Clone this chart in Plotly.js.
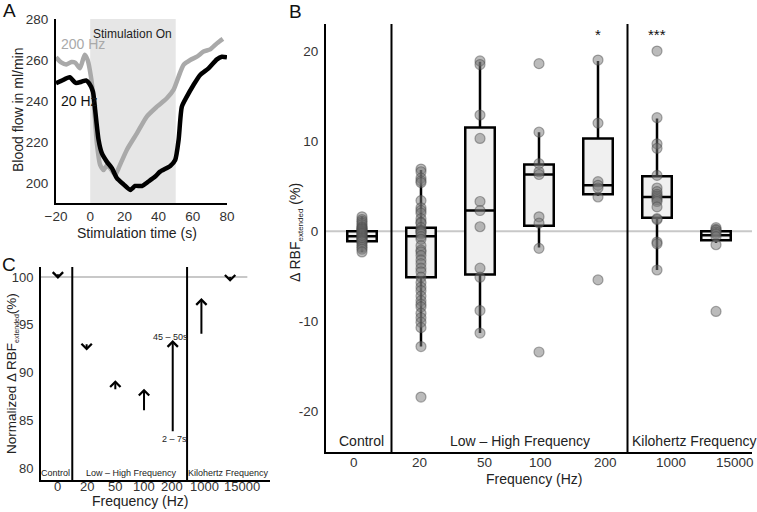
<!DOCTYPE html>
<html>
<head>
<meta charset="utf-8">
<script src="https://cdn.plot.ly/plotly-3.0.1.min.js"></script>
<style>
  html, body { margin: 0; padding: 0; background: #fff; }
  #fig { width: 757px; height: 512px; }
</style>
</head>
<body>
<div id="fig"></div>
<script>
// ---------- Panel A: blood flow time courses ----------
const time200 = [-20, -17, -14, -11, -8.8, -6, -3.2, -1.5, 0.4, 2, 3.9, 5.8, 7.8, 9.7, 11.7, 14.6, 16.6, 21.4, 27.3, 33.1, 39, 44.8, 48.7, 51.7, 54.6, 58.5, 62.4, 66.3, 70.2, 74.1, 77.6];
const flow200 = [261.3, 258.8, 257.8, 259.0, 258.7, 256.0, 262.6, 260.0, 252.0, 240.5, 219.3, 208.8, 206.3, 208.5, 207.2, 203.9, 207.2, 216.1, 224.2, 232.4, 237.2, 241.3, 245.4, 251.9, 257.6, 260.0, 261.6, 264.1, 265.2, 268.1, 270.3];
const time20 = [-20, -16.5, -12, -8.5, -5, -2.4, -0.6, 1.6, 2.9, 4.9, 6.8, 9.7, 12.7, 15.6, 19.5, 23.4, 26.3, 30.2, 34.1, 38, 40.9, 46.8, 49.7, 51.7, 53.6, 56.5, 60.4, 64.3, 69.2, 74.1, 77, 80];
const flow20 = [248.6, 250.0, 251.6, 248.8, 249.4, 250.0, 248.6, 244.6, 235.6, 221.0, 214.5, 210.4, 207.2, 202.3, 199.3, 196.6, 198.5, 198.5, 200.7, 203.1, 205.5, 208.3, 211.2, 221.0, 237.2, 242.1, 247.8, 252.7, 255.9, 260.3, 261.6, 261.3];
const seriesNames = ['200 Hz', '20 Hz'];
const timeTicks = [-20, 0, 20, 40, 60, 80];
const flowTicks = [200, 220, 240, 260, 280];

// ---------- Panel B: change in renal blood flow per frequency ----------
const freqLabels = ['0', '20', '50', '100', '200', '1000', '15000'];
const groupNames = ['Control', 'Low \u2013 High Frequency', 'Kilohertz Frequency'];
const ctrlVals = [1.6, 1.3, 1.1, 0.9, 0.7, 0.5, 0.4, 0.3, 0.2, 0.1, 0.0, -0.1, -0.2, -0.3, -0.4, -0.5, -0.6, -0.7, -0.8, -0.9, -1.0, -1.1, -1.2, -1.4, -1.6, -1.8, -2.0, -2.3];
const hz20Vals = [6.9, 6.6, 5.9, 5.6, 5.4, 3.4, 2.6, 2.3, 2.0, 1.4, 1.0, 0.9, 0.4, 0.1, 0.0, -0.1, -0.3, -0.6, -0.9, -1.6, -2.1, -2.3, -2.7, -3.2, -3.6, -4.1, -4.5, -5.1, -5.7, -6.2, -6.6, -7.2, -7.7, -8.1, -8.4, -9.1, -9.6, -10.1, -10.7, -12.8, -18.4];
const hz50Vals = [18.9, 18.5, 12.9, 10.3, 3.3, 2.3, 0.5, -4.1, -5.1, -8.8, -11.3];
const hz100Vals = [18.6, 11.0, 7.5, 6.6, 6.3, 1.6, 0.9, -1.9, -13.4];
const hz200Vals = [19.0, 12.0, 5.5, 5.1, 4.8, 3.8, -5.4];
const hz1000Vals = [20.0, 12.6, 9.7, 9.2, 6.2, 4.8, 4.4, 4.1, 3.9, 3.7, 3.5, 3.3, 2.7, 1.4, 1.3, -1.2, -1.4, -4.3];
const hz15000Vals = [0.4, 0.2, 0.1, -0.1, -0.3, -0.6, -1.5, -8.9];
const boxQ1 = [-1.1, -5.1, -4.8, 0.6, 4.1, 1.5, -1.0];
const boxMedian = [-0.55, -0.55, 2.3, 6.3, 5.1, 3.8, -0.45];
const boxQ3 = [0.0, 0.4, 11.5, 7.4, 10.3, 6.1, 0.0];
const boxLower = [-2.3, -12.8, -11.3, -1.8, 3.9, -4.3, -1.3];
const boxUpper = [1.6, 6.8, 18.8, 11.0, 18.9, 12.5, 0.3];
const sigMarks = ['', '', '', '', '*', '***', ''];

// ---------- Panel C: normalized change, 2-7 s to 45-50 s ----------
const normStart = [100.35, 93.0, 88.2, 86.0, 83.8, 94.0, 100.05];
const normEnd = [99.8, 92.3, 89.2, 88.3, 93.4, 97.8, 99.5];
const windowLabels = ['45 \u2013 50s', '2 \u2013 7s'];
const normTicks = [80, 85, 90, 95, 100];

// ---------- build ----------
const FONT = 'Liberation Sans, Arial, sans-serif';
const W = 757, H = 512;
const px = v => v / W;            // pixel -> paper x
const py = v => 1 - v / H;        // pixel -> paper y

const groupVals = [ctrlVals, hz20Vals, hz50Vals, hz100Vals, hz200Vals, hz1000Vals, hz15000Vals];
const catPos = freqLabels.map((_, i) => i + 1);
const ptsX = [], ptsY = [];
groupVals.forEach((vals, i) => vals.forEach(v => { ptsX.push(catPos[i]); ptsY.push(v); }));

const traces = [
  { type: 'scatter', mode: 'lines', x: time200, y: flow200, name: seriesNames[0],
    line: { color: '#a9a9a9', width: 4.5, shape: 'spline', smoothing: 0.6 }, xaxis: 'x', yaxis: 'y', hoverinfo: 'skip' },
  { type: 'scatter', mode: 'lines', x: time20, y: flow20, name: seriesNames[1],
    line: { color: '#000', width: 4.5, shape: 'spline', smoothing: 0.6 }, xaxis: 'x', yaxis: 'y', hoverinfo: 'skip' },
  { type: 'box', x: catPos, q1: boxQ1, median: boxMedian, q3: boxQ3,
    lowerfence: boxLower, upperfence: boxUpper, boxpoints: false,
    width: 0.5, whiskerwidth: 0, fillcolor: '#f0f0f0',
    line: { color: '#000', width: 2.5 }, xaxis: 'x2', yaxis: 'y2', hoverinfo: 'skip' },
  { type: 'scatter', mode: 'markers', x: ptsX, y: ptsY,
    marker: { size: 10, color: 'rgba(120,120,120,0.5)', line: { color: 'rgba(70,70,70,0.45)', width: 1.2 } },
    xaxis: 'x2', yaxis: 'y2', hoverinfo: 'skip' }
];

const tickFont = { family: FONT, size: 13.5, color: '#333' };
const tickFontC = { family: FONT, size: 13, color: '#333' };
const baseAxis = {
  showline: true, linecolor: '#000', linewidth: 2, ticks: '', showgrid: false,
  zeroline: false, tickfont: tickFont, fixedrange: true, tickangle: 0
};

const shapes = [
  // stimulation window in panel A
  { type: 'rect', xref: 'x', yref: 'y domain', x0: 0, x1: 50, y0: 0, y1: 1,
    fillcolor: '#e6e6e6', line: { width: 0 }, layer: 'below' },
  // zero reference in panel B
  { type: 'line', xref: 'x2 domain', yref: 'y2', x0: 0, x1: 1, y0: 0, y1: 0,
    line: { color: '#c8c8c8', width: 2 }, layer: 'below' },
  // group separators in panel B
  { type: 'line', xref: 'x2', yref: 'y2 domain', x0: 1.5, x1: 1.5, y0: 0, y1: 1, line: { color: '#000', width: 2 } },
  { type: 'line', xref: 'x2', yref: 'y2 domain', x0: 5.5, x1: 5.5, y0: 0, y1: 1, line: { color: '#000', width: 2 } },
  // 100 % reference in panel C
  { type: 'line', xref: 'x3', yref: 'y3', x0: 0.41, x1: 7.6, y0: 100, y1: 100,
    line: { color: '#c8c8c8', width: 2 }, layer: 'below' },
  { type: 'line', xref: 'x3', yref: 'y3 domain', x0: 1.5, x1: 1.5, y0: 0, y1: 1, line: { color: '#000', width: 2 } },
  { type: 'line', xref: 'x3', yref: 'y3 domain', x0: 5.5, x1: 5.5, y0: 0, y1: 1, line: { color: '#000', width: 2 } }
];

const ann = [];
const txt = (text, x, y, opts) => ann.push(Object.assign({
  text, x, y, xref: 'paper', yref: 'paper', showarrow: false,
  font: { family: FONT, size: 14, color: '#222' }, xanchor: 'center', yanchor: 'middle'
}, opts || {}));

// panel letters
const letterFont = { family: FONT, size: 19, color: '#111' };
txt('A', px(9), py(10), { font: letterFont });
txt('B', px(295), py(11), { font: letterFont });
txt('C', px(9), py(264), { font: letterFont });

// panel A texts
txt('Stimulation On', 25, 0.965, { xref: 'x', yref: 'y domain', yanchor: 'top', font: { family: FONT, size: 12, color: '#222' } });
txt(seriesNames[0], -18.2, 267.8, { xref: 'x', yref: 'y', xanchor: 'left', font: { family: FONT, size: 14, color: '#a9a9a9' } });
txt(seriesNames[1], -18.2, 240.0, { xref: 'x', yref: 'y', xanchor: 'left', font: { family: FONT, size: 14, color: '#111' } });
txt('Blood flow in ml/min', px(18), py(110), { textangle: -90 });
txt('Stimulation time (s)', px(137), py(233));

// panel B texts
txt('\u0394 RBF<sub><span style="font-size:8px">extended</span></sub> (%)', px(296), py(233), { textangle: -90 });
txt('Frequency (Hz)', px(534), py(479));
const labY = -23.3;
txt(groupNames[0], 1, labY, { xref: 'x2', yref: 'y2' });
txt(groupNames[1], 3.68, labY, { xref: 'x2', yref: 'y2' });
txt(groupNames[2], 6.64, labY, { xref: 'x2', yref: 'y2' });
sigMarks.forEach((m, i) => { if (m) txt(m, catPos[i], 21.8, { xref: 'x2', yref: 'y2', font: { family: FONT, size: 15, color: '#111' } }); });

// frequency tick labels for panels B and C, set just under each axis line
const bTickPos = [0.86, 1.98, 3.08, 4.02, 5.13, 6.23, 7.32];
const cTickPos = [1, 2.01, 2.99, 4.0, 4.98, 6.1, 7.4];
freqLabels.forEach((lab, i) => {
  txt(lab, bTickPos[i], py(462), { xref: 'x2', font: tickFont });
  txt(lab, cTickPos[i], py(486), { xref: 'x3', font: tickFontC });
});

// panel C texts
txt('Normalized \u0394 RBF<sub><span style="font-size:7px">extended</span></sub>(%)', px(12), py(374), { textangle: -90, font: { family: FONT, size: 13.5, color: '#222' } });
txt('Frequency (Hz)', px(140), py(501));
const cLabY = 79.45;
const smallFont = { family: FONT, size: 9, color: '#222' };
txt(groupNames[0], 0.9, cLabY, { xref: 'x3', yref: 'y3', font: smallFont });
txt(groupNames[1], 3.58, cLabY, { xref: 'x3', yref: 'y3', font: smallFont });
txt(groupNames[2], 6.93, cLabY, { xref: 'x3', yref: 'y3', font: smallFont });
txt(windowLabels[0], 4.92, normEnd[4] + 0.3, { xref: 'x3', yref: 'y3', font: smallFont });
txt(windowLabels[1], 5.05, normStart[4] - 0.75, { xref: 'x3', yref: 'y3', font: smallFont });

// panel C arrows (start window -> end window)
normStart.forEach((s, i) => ann.push({
  xref: 'x3', yref: 'y3', axref: 'x3', ayref: 'y3',
  x: catPos[i], y: normEnd[i], ax: catPos[i], ay: s,
  showarrow: true, arrowhead: 4, arrowsize: 1, arrowwidth: 2, arrowcolor: '#000',
  text: '', font: { size: 1 }, borderpad: 0, standoff: 0, startstandoff: 0
}));

const layout = {
  width: W, height: H, margin: { l: 0, r: 0, t: 0, b: 0 },
  paper_bgcolor: '#fff', plot_bgcolor: 'rgba(0,0,0,0)',
  showlegend: false, font: { family: FONT },
  xaxis: Object.assign({}, baseAxis, { domain: [px(56), px(227)], range: [-20, 80], tickvals: timeTicks, anchor: 'y' }),
  yaxis: Object.assign({}, baseAxis, { domain: [py(203), py(19)], range: [190.2, 280], tickvals: flowTicks, anchor: 'x', ticklabelstandoff: 3 }),
  xaxis2: Object.assign({}, baseAxis, { domain: [px(326), px(752)], range: [0.39, 7.61], showticklabels: false, anchor: 'y2' }),
  yaxis2: Object.assign({}, baseAxis, { domain: [py(452), py(24)], range: [-24.5, 23], tickvals: [-20, -10, 0, 10, 20], ticktext: ['-20', '-10', '0', '10', '20'], anchor: 'x2', ticklabelstandoff: 3 }),
  xaxis3: Object.assign({}, baseAxis, { domain: [px(41), px(270)], range: [0.41, 8.39], showticklabels: false, anchor: 'y3' }),
  yaxis3: Object.assign({}, baseAxis, { domain: [py(480), py(267)], range: [78.74, 101.05], tickvals: normTicks, tickfont: tickFontC, anchor: 'x3', ticklabelstandoff: 3 }),
  shapes: shapes,
  annotations: ann
};

Plotly.newPlot('fig', traces, layout, { staticPlot: true, displayModeBar: false });
</script>
</body>
</html>
